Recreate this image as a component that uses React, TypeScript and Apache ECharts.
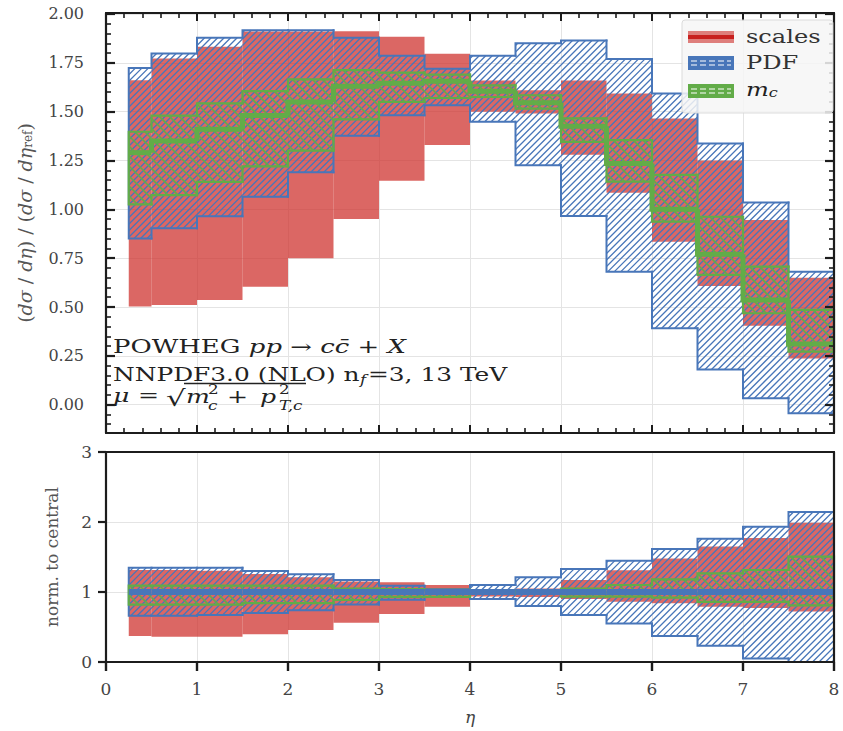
import React, { useEffect, useRef } from 'react';
import * as echarts from 'echarts';

// ---- bins (eta) ----
const binEdges = [0.25, 0.5, 1.0, 1.5, 2.0, 2.5, 3.0, 3.5, 4.0, 4.5, 5.0, 5.5, 6.0, 6.5, 7.0, 7.5, 8.0];

// ---- upper panel: (dσ/dη)/(dσ/dη_ref) ----
const central = [1.29, 1.35, 1.41, 1.48, 1.55, 1.63, 1.645, 1.655, 1.605, 1.545, 1.425, 1.235, 1.0, 0.77, 0.536, 0.31];
const scalesLo = [0.502, 0.51, 0.536, 0.604, 0.75, 0.95, 1.146, 1.329, 1.5, 1.49, 1.28, 1.085, 0.834, 0.608, 0.404, 0.236];
const scalesHi = [1.661, 1.772, 1.832, 1.91, 1.91, 1.911, 1.883, 1.797, 1.66, 1.61, 1.66, 1.593, 1.465, 1.25, 0.945, 0.65];
const pdfLo = [0.851, 0.903, 0.965, 1.064, 1.19, 1.376, 1.482, 1.533, 1.448, 1.226, 0.966, 0.681, 0.391, 0.18, 0.033, -0.044];
const pdfHi = [1.724, 1.798, 1.878, 1.917, 1.917, 1.878, 1.786, 1.72, 1.786, 1.85, 1.864, 1.77, 1.593, 1.337, 1.035, 0.681];
const mcLo = [1.025, 1.073, 1.141, 1.22, 1.3, 1.46, 1.55, 1.57, 1.575, 1.516, 1.345, 1.142, 0.937, 0.664, 0.468, 0.272];
const mcHi = [1.397, 1.48, 1.542, 1.605, 1.665, 1.713, 1.7, 1.69, 1.635, 1.584, 1.466, 1.354, 1.176, 0.962, 0.707, 0.485];

// ---- lower panel: normalised to central ----
const rCentral = [1, 1, 1, 1, 1, 1, 1, 1, 1, 1, 1, 1, 1, 1, 1, 1];
const rScalesLo = [0.371, 0.362, 0.362, 0.395, 0.457, 0.562, 0.686, 0.79, 0.935, 0.93, 0.9, 0.86, 0.84, 0.79, 0.77, 0.72];
const rScalesHi = [1.314, 1.314, 1.305, 1.257, 1.21, 1.15, 1.14, 1.1, 1.04, 1.05, 1.17, 1.31, 1.48, 1.65, 1.77, 1.99];
const rPdfLo = [0.66, 0.66, 0.67, 0.7, 0.74, 0.82, 0.89, 0.93, 0.9, 0.8, 0.67, 0.55, 0.37, 0.233, 0.05, -0.1];
const rPdfHi = [1.348, 1.348, 1.348, 1.3, 1.252, 1.17, 1.09, 1.04, 1.1, 1.21, 1.33, 1.448, 1.614, 1.76, 1.933, 2.143];
const rMcLo = [0.82, 0.82, 0.82, 0.84, 0.84, 0.886, 0.93, 0.93, 0.98, 0.98, 0.933, 0.933, 0.92, 0.86, 0.86, 0.81];
const rMcHi = [1.09, 1.09, 1.09, 1.09, 1.09, 1.05, 1.04, 1.03, 1.02, 1.02, 1.05, 1.1, 1.18, 1.267, 1.314, 1.505];

// ---- ticks ----
const yTicksTop = [0, 0.25, 0.5, 0.75, 1.0, 1.25, 1.5, 1.75, 2.0];
const yTicksBottom = [0, 1, 2, 3];
const TOP_MIN = -0.145;
const TOP_MAX = 2.005;

const yMinorTop: number[] = [];
for (let k = -2; k <= 40; k++) {
  if (k % 5 !== 0) yMinorTop.push(+(k * 0.05).toFixed(2));
}

const RED_FILL = 'rgba(205,45,40,0.72)';
const BLUE = '#4876b9';
const GREEN = '#62ac48';
const INK = '#1c1c1c';
const FONT = 'DejaVu Serif';
const SX = 1.4;

function hatchPath(a: number, b: number, c: number, d: number, ox: number, oy: number, s: number, dir: string) {
  let p = '';
  if (dir === 'fwd') {
    const uMin = a + c - ox - oy;
    const uMax = b + d - ox - oy;
    for (let k = Math.ceil(uMin / s); k * s <= uMax; k++) {
      const u = k * s + ox + oy;
      const xa = Math.max(a, u - d);
      const xb = Math.min(b, u - c);
      if (xb - xa > 0.05) p += `M${xa.toFixed(2)} ${(u - xa).toFixed(2)}L${xb.toFixed(2)} ${(u - xb).toFixed(2)}`;
    }
  } else {
    const off = oy - ox;
    const vMin = c - b - off;
    const vMax = d - a - off;
    for (let k = Math.ceil(vMin / s); k * s <= vMax; k++) {
      const v = k * s + off;
      const xa = Math.max(a, c - v);
      const xb = Math.min(b, d - v);
      if (xb - xa > 0.05) p += `M${xa.toFixed(2)} ${(xa + v).toFixed(2)}L${xb.toFixed(2)} ${(xb + v).toFixed(2)}`;
    }
  }
  return p;
}

function bandSeries(name: string, xi: number, yi: number, lo: number[], hi: number[], o: any) {
  return {
    type: 'custom',
    name,
    xAxisIndex: xi,
    yAxisIndex: yi,
    silent: true,
    data: lo.map((l, i) => [binEdges[i], binEdges[i + 1], l, hi[i]]),
    renderItem: (params: any, api: any) => {
      const cs = params.coordSys;
      const cy = (y: number) => Math.min(Math.max(y, cs.y), cs.y + cs.height);
      const idx = params.dataIndexInside;
      const n = params.dataInsideLength;
      const x0 = api.value(0), x1 = api.value(1), l = api.value(2), h = api.value(3);
      const X0 = api.coord([x0, h])[0];
      const X1 = api.coord([x1, h])[0];
      const YH = cy(api.coord([x0, h])[1]);
      const YL = cy(api.coord([x0, l])[1]);
      const children: any[] = [];
      if (o.fill) {
        children.push({ type: 'rect', shape: { x: X0, y: YH, width: X1 - X0, height: YL - YH }, style: { fill: o.fill } });
      }
      if (o.hatch) {
        const d = hatchPath(X0, X1, YH, YL, cs.x, cs.y, o.spacing, o.hatch);
        if (d) children.push({ type: 'path', shape: { pathData: d }, style: { fill: 'none', stroke: o.color, lineWidth: o.hatchWidth } });
      }
      if (o.edge) {
        let d = `M${X0} ${YH}L${X1} ${YH}M${X0} ${YL}L${X1} ${YL}`;
        if (idx === 0) {
          d += `M${X0} ${YH}L${X0} ${YL}`;
        } else {
          const pl = api.value(2, idx - 1), ph = api.value(3, idx - 1);
          const YPH = cy(api.coord([x0, ph])[1]);
          const YPL = cy(api.coord([x0, pl])[1]);
          d += `M${X0} ${YPH}L${X0} ${YH}M${X0} ${YPL}L${X0} ${YL}`;
        }
        if (idx === n - 1) d += `M${X1} ${YH}L${X1} ${YL}`;
        children.push({ type: 'path', shape: { pathData: d }, style: { fill: 'none', stroke: o.color, lineWidth: o.edgeWidth, lineCap: 'square' } });
      }
      return { type: 'group', children };
    },
  };
}

function stepSeries(name: string, xi: number, yi: number, vals: number[], color: string, width: number) {
  return {
    type: 'custom',
    name,
    xAxisIndex: xi,
    yAxisIndex: yi,
    silent: true,
    data: vals.map((v, i) => [binEdges[i], binEdges[i + 1], v]),
    renderItem: (params: any, api: any) => {
      const idx = params.dataIndexInside;
      const x0 = api.value(0), x1 = api.value(1), v = api.value(2);
      const pv = idx === 0 ? v : api.value(2, idx - 1);
      const a = api.coord([x0, pv]);
      const b = api.coord([x0, v]);
      const c = api.coord([x1, v]);
      return {
        type: 'polyline',
        shape: { points: [a, b, c] },
        style: { fill: 'none', stroke: color, lineWidth: width, lineJoin: 'miter' },
      };
    },
  };
}

const labelStyle = { fontFamily: FONT, fontSize: 16, color: '#444' };
const gridLine = { show: true, lineStyle: { color: '#e4e4e4', width: 1 } };

function frameX(gridIndex: number, position: string, opts: any) {
  return {
    gridIndex,
    type: 'value',
    min: 0,
    max: 8,
    interval: 1,
    position,
    z: 10,
    axisLine: { show: true, onZero: false, lineStyle: { color: INK, width: 2.2 } },
    splitLine: { show: false },
    ...opts,
  };
}

const xAxes = [
  { gridIndex: 0, type: 'value', min: 0, max: 8, interval: 1, position: 'bottom', axisLine: { show: false, onZero: false }, axisTick: { show: false }, axisLabel: { show: false }, splitLine: gridLine },
  frameX(0, 'bottom', {
    axisTick: { show: true, inside: true, length: 8, lineStyle: { color: INK, width: 2 } },
    minorTick: { show: true, splitNumber: 5, length: 5, lineStyle: { color: INK, width: 1.6 } },
    axisLabel: { show: false },
  }),
  frameX(0, 'top', {
    axisTick: { show: true, inside: true, length: 8, lineStyle: { color: INK, width: 2 } },
    minorTick: { show: true, splitNumber: 5, length: 5, lineStyle: { color: INK, width: 1.6 } },
    axisLabel: { show: false },
  }),
  { gridIndex: 1, type: 'value', min: 0, max: 8, interval: 1, position: 'bottom', axisLine: { show: false, onZero: false }, axisTick: { show: false }, axisLabel: { show: false }, splitLine: gridLine },
  frameX(1, 'bottom', {
    axisTick: { show: true, inside: false, length: 9, lineStyle: { color: INK, width: 2.4 } },
    axisLabel: { show: true, margin: 18, ...labelStyle, fontSize: 17 },
    name: 'η',
    nameLocation: 'middle',
    nameGap: 46,
    nameTextStyle: { fontFamily: FONT, fontSize: 17, fontStyle: 'italic', color: '#444' },
  }),
  frameX(1, 'top', { axisTick: { show: false }, axisLabel: { show: false } }),
];

function topY(position: string, opts: any) {
  return {
    gridIndex: 0,
    type: 'value',
    min: TOP_MIN,
    max: TOP_MAX,
    position,
    z: 10,
    splitLine: { show: false },
    ...opts,
  };
}

const yAxes = [
  {
    gridIndex: 0, type: 'value', min: TOP_MIN, max: TOP_MAX, position: 'left',
    axisLine: { show: false, onZero: false },
    axisTick: { show: false, customValues: yTicksTop },
    axisLabel: { show: false, customValues: yTicksTop },
    splitLine: gridLine,
  },
  topY('left', {
    axisLine: { show: true, onZero: false, lineStyle: { color: INK, width: 2.2 } },
    axisTick: { show: true, inside: true, length: 9, customValues: yTicksTop, lineStyle: { color: INK, width: 2.2 } },
    axisLabel: { show: true, customValues: yTicksTop, formatter: (v: number) => v.toFixed(2), margin: 22, ...labelStyle },
    name: '({i|dσ} / {i|dη}) / ({i|dσ} / {i|dη}{s|ref})',
    nameLocation: 'middle',
    nameRotate: 90,
    nameGap: 72,
    nameTextStyle: {
      fontFamily: FONT, fontSize: 19, color: '#555',
      rich: {
        i: { fontFamily: FONT, fontSize: 19, fontStyle: 'italic', color: '#555' },
        s: { fontFamily: FONT, fontSize: 12, color: '#555', verticalAlign: 'bottom' },
      },
    },
  }),
  topY('left', {
    axisLine: { show: false, onZero: false },
    axisTick: { show: true, inside: true, length: 5, customValues: yMinorTop, lineStyle: { color: INK, width: 1.6 } },
    axisLabel: { show: false },
  }),
  topY('right', {
    axisLine: { show: true, onZero: false, lineStyle: { color: INK, width: 2.2 } },
    axisTick: { show: true, inside: true, length: 9, customValues: yTicksTop, lineStyle: { color: INK, width: 2.2 } },
    axisLabel: { show: false },
  }),
  topY('right', {
    axisLine: { show: false, onZero: false },
    axisTick: { show: true, inside: true, length: 5, customValues: yMinorTop, lineStyle: { color: INK, width: 1.6 } },
    axisLabel: { show: false },
  }),
  {
    gridIndex: 1, type: 'value', min: 0, max: 3, interval: 1, position: 'left',
    axisLine: { show: false, onZero: false }, axisTick: { show: false }, axisLabel: { show: false },
    splitLine: gridLine,
  },
  {
    gridIndex: 1, type: 'value', min: 0, max: 3, interval: 1, position: 'left', z: 10,
    axisLine: { show: true, onZero: false, lineStyle: { color: INK, width: 2.2 } },
    axisTick: { show: true, inside: false, length: 8, lineStyle: { color: INK, width: 2.2 } },
    axisLabel: { show: true, margin: 14, ...labelStyle, fontSize: 17, customValues: yTicksBottom },
    splitLine: { show: false },
    name: 'norm. to central',
    nameLocation: 'middle',
    nameRotate: 90,
    nameGap: 46,
    nameTextStyle: { fontFamily: FONT, fontSize: 17, color: '#555' },
  },
  {
    gridIndex: 1, type: 'value', min: 0, max: 3, interval: 1, position: 'right', z: 10,
    axisLine: { show: true, onZero: false, lineStyle: { color: INK, width: 2.2 } },
    axisTick: { show: false }, axisLabel: { show: false }, splitLine: { show: false },
  },
];

const blueOpts = { hatch: 'fwd', spacing: 6.5, color: BLUE, hatchWidth: 1.3, edge: true, edgeWidth: 2 };
const greenOpts = { hatch: 'back', spacing: 10, color: GREEN, hatchWidth: 1.6, edge: true, edgeWidth: 2.2 };

const series = [
  bandSeries('scales', 0, 0, scalesLo, scalesHi, { fill: RED_FILL }),
  bandSeries('PDF', 0, 0, pdfLo, pdfHi, blueOpts),
  bandSeries('m_c', 0, 0, mcLo, mcHi, greenOpts),
  stepSeries('central', 0, 0, central, GREEN, 5),
  bandSeries('scales ratio', 3, 5, rScalesLo, rScalesHi, { fill: RED_FILL }),
  bandSeries('PDF ratio', 3, 5, rPdfLo, rPdfHi, blueOpts),
  bandSeries('m_c ratio', 3, 5, rMcLo, rMcHi, greenOpts),
  stepSeries('central ratio', 3, 5, rCentral, BLUE, 6),
];

const txt = (x: number, y: number, text: string, extra: any = {}, rich: any = undefined, sx: number = SX) => ({
  type: 'text',
  x,
  y,
  scaleX: sx,
  z: 50,
  silent: true,
  style: {
    text,
    fill: '#222',
    fontFamily: FONT,
    fontSize: 18,
    verticalAlign: 'middle',
    rich,
    ...extra,
  },
});

const it = (size: number) => ({ fontFamily: FONT, fontSize: size, fontStyle: 'italic', fill: '#222' });

const graphic = [
  // annotation
  txt(113, 347, 'POWHEG {i|pp} → {i|cc\u0304} + {i|X}', {}, { i: it(18) }, 1.44),
  txt(113, 375, 'NNPDF3.0 (NLO) n', {}, undefined, 1.38),
  txt(360, 380, 'f', { fontSize: 12, fontStyle: 'italic' }, undefined, 1.38),
  txt(368, 375, '=3, 13 TeV', {}, undefined, 1.38),
  txt(113, 396, 'μ', { fontStyle: 'italic' }),
  txt(138, 396, '='),
  txt(166, 398, '√', { fontSize: 22 }),
  { type: 'line', z: 50, silent: true, shape: { x1: 184, y1: 383.5, x2: 306, y2: 383.5 }, style: { stroke: '#222', lineWidth: 1.3 } },
  txt(186, 397, 'm', { fontStyle: 'italic' }),
  txt(208, 389, '2', { fontSize: 12 }),
  txt(208, 405, 'c', { fontSize: 12, fontStyle: 'italic' }),
  txt(227, 397, '+'),
  txt(260, 397, 'p', { fontStyle: 'italic' }),
  txt(279, 389, '2', { fontSize: 12 }),
  txt(279, 405, 'T,c', { fontSize: 12, fontStyle: 'italic' }),
  // legend
  {
    type: 'rect', z: 60, silent: true,
    shape: { x: 682, y: 20, width: 151, height: 93, r: 3 },
    style: { fill: 'rgba(246,246,246,0.85)', stroke: 'rgba(215,215,215,0.9)', lineWidth: 1 },
  },
  { type: 'rect', z: 61, silent: true, shape: { x: 688, y: 31, width: 46, height: 12 }, style: { fill: 'rgba(205,45,40,0.6)' } },
  { type: 'line', z: 62, silent: true, shape: { x1: 688, y1: 37, x2: 734, y2: 37 }, style: { stroke: '#c8201e', lineWidth: 4 } },
  { type: 'rect', z: 61, silent: true, shape: { x: 689, y: 57, width: 44, height: 12 }, style: { fill: BLUE, stroke: BLUE, lineWidth: 2 } },
  { type: 'line', z: 62, silent: true, shape: { x1: 691, y1: 61, x2: 731, y2: 61 }, style: { stroke: '#fff', lineWidth: 1.2, lineDash: [6, 3] } },
  { type: 'line', z: 62, silent: true, shape: { x1: 691, y1: 65, x2: 731, y2: 65 }, style: { stroke: '#fff', lineWidth: 1.2, lineDash: [6, 3] } },
  { type: 'rect', z: 61, silent: true, shape: { x: 689, y: 85, width: 44, height: 12 }, style: { fill: GREEN, stroke: GREEN, lineWidth: 2 } },
  { type: 'line', z: 62, silent: true, shape: { x1: 691, y1: 89, x2: 731, y2: 89 }, style: { stroke: '#fff', lineWidth: 1.2, lineDash: [6, 3] } },
  { type: 'line', z: 62, silent: true, shape: { x1: 691, y1: 93, x2: 731, y2: 93 }, style: { stroke: '#fff', lineWidth: 1.2, lineDash: [6, 3] } },
  { ...txt(746, 37, 'scales', { fill: '#333' }), z: 63, scaleX: 1.34 },
  { ...txt(746, 63, 'PDF', { fill: '#333' }), z: 63, scaleX: 1.34 },
  { ...txt(746, 90, '{i|m}{s|c}', { fill: '#333' }, { i: it(18), s: { ...it(12), verticalAlign: 'bottom' } }), z: 63, scaleX: 1.34 },
];

const option = {
  animation: false,
  backgroundColor: '#fff',
  grid: [
    { left: 106, right: 9, top: 13, height: 420 },
    { left: 106, right: 9, top: 452, height: 210 },
  ],
  xAxis: xAxes,
  yAxis: yAxes,
  series,
  graphic,
};

export default function App() {
  const ref = useRef<HTMLDivElement>(null);
  useEffect(() => {
    const chart = echarts.init(ref.current as HTMLDivElement, null, { renderer: 'svg' });
    chart.setOption(option as any);
    return () => chart.dispose();
  }, []);
  return (
    <div
      ref={ref}
      style={{ position: 'fixed', left: 0, top: 0, width: 843, height: 731, background: '#fff' }}
    />
  );
}
